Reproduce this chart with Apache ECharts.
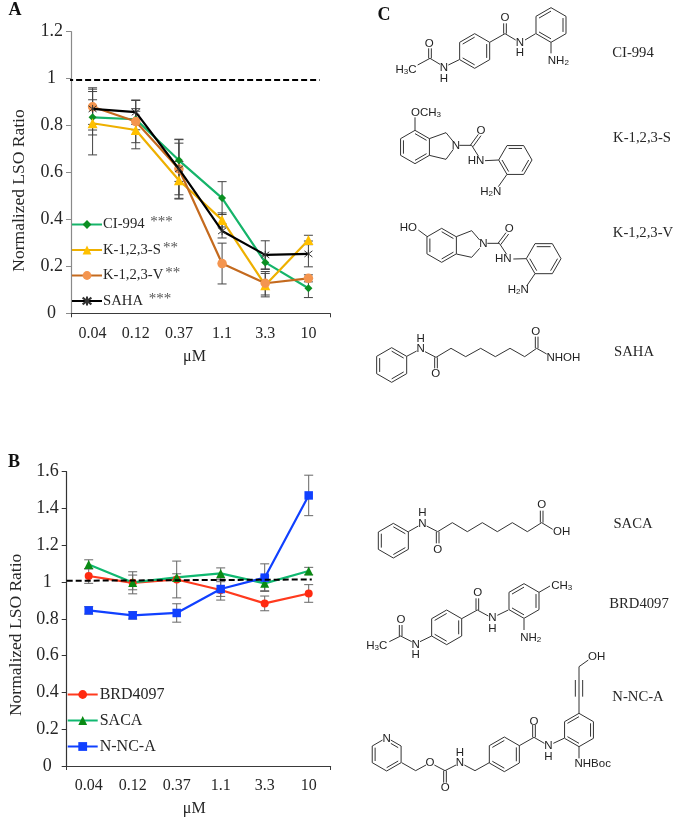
<!DOCTYPE html>
<html>
<head>
<meta charset="utf-8">
<style>html,body{margin:0;padding:0;background:#fff}#c{width:687px;height:831px;filter:blur(0.35px)}</style>
<script src="https://cdn.jsdelivr.net/npm/echarts@6/dist/echarts.min.js"></script>
</head>
<body>
<div id="c"></div>
<script>
// ---- data ----
const doses = ['0.04','0.12','0.37','1.1','3.3','10'];
const ciValues   = [0.835,0.827,0.652,0.491,0.217,0.107];
const ciErrors   = [0.075,0.045,0.09,0.07,0.03,0.04];
const ksValues   = [0.81,0.781,0.567,0.398,0.12,0.3125];
const ksErrors   = [0.135,0.08,0.08,0.03,0.05,0.02];
const kvValues   = [0.88,0.817,0.615,0.212,0.128,0.149];
const kvErrors   = [0.075,0.09,0.125,0.087,0.05,0.015];
const sahaValues = [0.871,0.857,0.615,0.351,0.249,0.253];
const sahaErrors = [0.09,0.052,0.11,0.03,0.06,0.055];
const brdValues  = [1.033,0.996,1.014,0.957,0.884,0.938];
const brdErrors  = [0.04,0.06,0.1,0.055,0.04,0.048];
const sacaValues = [1.096,0.998,1.025,1.047,0.993,1.06];
const sacaErrors = [0.025,0.04,0.02,0.03,0.04,0.02];
const nncValues  = [0.846,0.819,0.832,0.962,1.024,1.471];
const nncErrors  = [0.02,0.02,0.05,0.04,0.075,0.11];
const refLineA = [[-0.09,0.994],[5.76,0.994]];
const refLineB = [[0,1.007],[5.57,1.014]];
const namesA = ['CI-994 ***','K-1,2,3-S**','K-1,2,3-V**','SAHA ***'];
const namesB = ['BRD4097','SACA','N-NC-A'];
const ticksA = {min:0,max:1.2,interval:0.2};
const ticksB = {min:0,max:1.6,interval:0.2};

// ---- helpers ----
const serif = '"Liberation Serif","Times New Roman",serif';
const sans = '"Liberation Sans",Arial,sans-serif';
const txt = '#262626';

function errSeries(values, errs, xi, yi, color){
  return {
    type:'custom', xAxisIndex:xi, yAxisIndex:yi, z:2, silent:true,
    data: values.map((v,i)=>[i, v-errs[i], v+errs[i]]),
    renderItem(p, api){
      const lo = api.coord([api.value(0), api.value(1)]);
      const hi = api.coord([api.value(0), api.value(2)]);
      const c = 4.5, s = {stroke:color, lineWidth:1, fill:null};
      return {type:'group', children:[
        {type:'line', shape:{x1:lo[0],y1:lo[1],x2:hi[0],y2:hi[1]}, style:s},
        {type:'line', shape:{x1:lo[0]-c,y1:lo[1],x2:lo[0]+c,y2:lo[1]}, style:s},
        {type:'line', shape:{x1:hi[0]-c,y1:hi[1],x2:hi[0]+c,y2:hi[1]}, style:s}
      ]};
    }
  };
}
function lineSeries(name, values, xi, yi, lineColor, markColor, symbol, size, z, extra){
  return Object.assign({
    name, type:'line', data:values, xAxisIndex:xi, yAxisIndex:yi, z,
    symbol, symbolSize:size, showSymbol:true, smooth:false,
    lineStyle:{color:lineColor, width:2.2},
    itemStyle:{color:markColor, opacity:1},
    emphasis:{disabled:true}
  }, extra||{});
}
function refSeries(points, xi, yi){
  return {type:'line', data:points, xAxisIndex:xi, yAxisIndex:yi, symbol:'none', z:6, clip:false, silent:true,
    lineStyle:{color:'#000', width:2, type:[6,3]}};
}
function catAxis(g, axisColor, namePad){
  return {type:'category', gridIndex:g, data:doses, boundaryGap:true, name:'\u03bcM', nameLocation:'middle', nameGap:35,
    nameTextStyle:{fontFamily:serif,fontSize:16,color:txt,padding:namePad},
    axisLine:{onZero:false,lineStyle:{color:axisColor,width:1}},
    axisTick:{alignWithLabel:true,length:4,lineStyle:{color:axisColor}},
    axisLabel:{fontFamily:serif,fontSize:16,color:txt,margin:12,interval:0}, splitLine:{show:false}};
}
function bandAxis(g, axisColor){
  return {type:'value', gridIndex:g, min:0, max:6, interval:6, position:'bottom', axisLine:{show:false},
    axisTick:{show:true,length:4,lineStyle:{color:axisColor}}, axisLabel:{show:false}, splitLine:{show:false}};
}
function valAxis(g, t, axisColor, gap, namePad){
  return {type:'value', gridIndex:g, min:t.min, max:t.max, interval:t.interval, name:'Normalized LSO Ratio',
    nameLocation:'middle', nameGap:gap, nameRotate:90,
    nameTextStyle:{fontFamily:serif,fontSize:17.5,color:txt,padding:namePad},
    axisLine:{show:true,lineStyle:{color:axisColor,width:1.2}},
    axisTick:{show:true,length:5,lineStyle:{color:axisColor}},
    axisLabel:{fontFamily:serif,fontSize:18,color:txt,margin:8,
      formatter:v=>Number.isInteger(v)?'{p|'+v+'}':String(+v.toFixed(1)),
      rich:{p:{fontFamily:serif,fontSize:18,color:txt,padding:[0,7,0,0]}}},
    splitLine:{show:false}};
}
function legend(names, left, top, gap, width, size, shift){
  return {show:true, orient:'vertical', left, top, itemWidth:width, itemHeight:11, itemGap:gap, data:names, padding:0,
    selectedMode:false, inactiveColor:'#000',
    formatter:n=>n.replace(/\*+/,m=>'{a|'+m+'}'),
    textStyle:{fontFamily:serif,fontSize:size,color:txt,padding:[0,0,0,shift],
      rich:{a:{fontFamily:serif,fontSize:15,color:'#555',padding:[0,0,4,2]}}}};
}

// ---- structures, panel C (sketch units are 1/3 px from an origin) ----
const graphicEls = [];
const bondStyle = {stroke:'#333', lineWidth:1, fill:null};
function mol(ox, oy, m){
  const P = (x,y)=>[ox+x/3, oy+y/3];
  const seg = (x1,y1,x2,y2)=>{const a=P(x1,y1),b=P(x2,y2);
    graphicEls.push({type:'line',silent:true,z:1,shape:{x1:a[0],y1:a[1],x2:b[0],y2:b[1]},style:bondStyle});};
  (m.rings||[]).forEach(([cx,cy,r,start,edges])=>{
    const v=k=>{const a=(start+60*k)*Math.PI/180;return [r*Math.cos(a),-r*Math.sin(a)];};
    for(let k=0;k<6;k++){const a=v(k),b=v((k+1)%6);
      seg(cx+a[0],cy+a[1],cx+b[0],cy+b[1]);
      if(edges.includes(k)) seg(cx+a[0]*.8,cy+a[1]*.8,cx+b[0]*.8,cy+b[1]*.8);}
  });
  (m.bonds||[]).forEach(b=>seg(...b));
  (m.labels||[]).forEach(([x,y,t,knock])=>{const a=P(x,y);
    graphicEls.push({type:'text',silent:true,z:3,style:{x:a[0],y:a[1],text:t,font:'11.5px '+sans,fill:'#222',align:'center',verticalAlign:'middle',
      backgroundColor:knock?'#fff':undefined,
      rich:{s:{font:'8px '+sans,fill:'#222',padding:[4,0,0,0]},t:{font:'11.5px '+sans,fill:'#222'}}}});});
}
function caption(x,y,t){graphicEls.push({type:'text',silent:true,style:{x,y,text:t,font:'14.7px '+serif,fill:txt,align:'center',verticalAlign:'middle'}});}
function letter(x,y,t){graphicEls.push({type:'text',silent:true,style:{x,y,text:t,font:'bold 18px '+serif,fill:'#111',align:'center',verticalAlign:'middle'}});}

const E=[0,2,4], F=[1,3,5];
mol(370,0,{rings:[[314,153,52,90,E],[543,75,52,90,E]],
 bonds:[[143,195,180,175],[176,175,176,145],[184,175,184,145],[180,175,210,193],[235,195,268,179],[359,127,405,101],[401,101,401,70],[409,101,409,70],[405,101,437,120],[465,120,497,101],[543,127,543,160]],
 labels:[[108,208,'{t|H}{s|3}{t|C}'],[178,130,'O'],[222,203,'N'],[222,235,'H'],[405,52,'O'],[450,127,'N'],[450,158,'H'],[565,182,'{t|NH}{s|2}']]});
mol(370,0,{rings:[[135,441,50,90,F],[436,480,50,0,F]],
 bonds:[[135,391,135,352],[178,416,228,398],[228,398,250,425],[250,448,228,478],[228,478,178,466],[268,436,305,436],[301,436,325,403],[309,440,333,407],[305,436,325,468],[345,482,386,480],[411,523,385,560]],
 labels:[[168,338,'{t|OCH}{s|3}'],[258,436,'N'],[333,392,'O'],[318,483,'HN'],[362,576,'{t|H}{s|2}{t|N}']]});
mol(370,200,{rings:[[215,136,51,90,F],[521,176,52,0,F]],
 bonds:[[145,90,172,110],[259,110,305,92],[305,92,329,120],[329,145,305,172],[305,172,259,162],[352,130,388,130],[384,130,408,98],[392,134,416,102],[388,130,410,163],[430,177,469,176],[495,221,470,258]],
 labels:[[115,82,'HO'],[340,132,'N'],[418,87,'O'],[400,177,'HN'],[445,268,'{t|H}{s|2}{t|N}']]});
mol(370,200,{rings:[[65,495,52,90,F]],
 bonds:[[110,469,140,453],[165,455,198,472],[194,472,194,505],[202,472,202,505],[198,472,243,445],[243,445,287,470],[287,470,332,445],[332,445,376,470],[376,470,420,445],[420,445,464,470],[464,470,500,445],[496,445,496,410],[504,445,504,410],[500,445,530,462]],
 labels:[[152,447,'N'],[152,415,'H'],[197,522,'O'],[497,394,'O'],[580,472,'NHOH']]});
mol(370,500,{rings:[[70,122,52,90,F]],
 bonds:[[115,95,145,78],[170,78,203,95],[199,95,199,130],[207,95,207,130],[203,95,247,68],[247,68,292,95],[292,95,337,68],[337,68,382,95],[382,95,427,68],[427,68,472,95],[472,95,515,68],[511,68,511,32],[519,68,519,32],[515,68,548,88]],
 labels:[[157,70,'N'],[157,37,'H'],[203,148,'O'],[515,15,'O'],[575,95,'OH']]});
mol(370,500,{rings:[[230,382,52,90,E],[462,303,52,90,E]],
 bonds:[[58,425,92,408],[88,408,88,375],[96,408,96,375],[92,408,125,425],[150,425,185,408],[275,356,322,330],[318,330,318,295],[326,330,326,295],[322,330,355,348],[382,346,415,330],[507,277,540,258],[462,356,462,390]],
 labels:[[20,437,'{t|H}{s|3}{t|C}'],[93,358,'O'],[137,433,'N'],[137,465,'H'],[323,278,'O'],[367,353,'N'],[367,385,'H'],[575,258,'{t|CH}{s|3}'],[482,412,'{t|NH}{s|2}']]});
mol(370,650,{rings:[[50,313,50,90,F],[403,313,52,90,E],[627,240,50,90,E]],
 bonds:[[95,338,137,362],[137,362,168,345],[193,345,225,362],[221,362,221,398],[229,362,229,398],[225,362,258,345],[283,345,315,362],[315,362,358,338],[448,287,492,262],[488,262,488,225],[496,262,496,225],[492,262,523,280],[550,280,582,265],[627,190,627,50],[616,140,616,90],[638,140,638,90],[627,50,655,30],[627,290,627,325]],
 labels:[[50,265,'N',true],[180,338,'O'],[226,412,'O'],[270,338,'N'],[270,307,'H'],[492,215,'O'],[535,288,'N'],[535,320,'H'],[680,20,'OH'],[668,340,'NHBoc']]});
caption(633,53,'CI-994');caption(642,138,'K-1,2,3-S');caption(643,233,'K-1,2,3-V');caption(634,352,'SAHA');
caption(633,524,'SACA');caption(639,604,'BRD4097');caption(638,697,'N-NC-A');
letter(15,10,'A');letter(14,462,'B');letter(384,15,'C');

// ---- chart ----
const ax='#3a3a3a', ay='#8a8a8a';
const star='path://M-1,-1L1,1M-1,1L1,-1M0,-1.3L0,1.3';
const option = {
  animation:false, backgroundColor:'#fff',
  grid:[{left:71,top:31.7,width:259,height:281.6},{left:66.7,top:471.7,width:264,height:294.3}],
  xAxis:[catAxis(0,ax,[0,12,0,0]), catAxis(1,ax,[0,9,0,0]), bandAxis(0,ax), bandAxis(1,ax)],
  yAxis:[valAxis(0,ticksA,ay,43,[0,36,0,0]), valAxis(1,ticksB,'#333',41,[0,32,0,0])],
  legend:[legend(namesA,71,215,8.5,30,14.7,-4), legend(namesB,66.7,686.5,10,30,16,-3)],
  graphic:{elements:graphicEls},
  series:[
    errSeries(ciValues,ciErrors,0,0,'#444'),
    errSeries(ksValues,ksErrors,0,0,'#444'),
    errSeries(kvValues,kvErrors,0,0,'#444'),
    errSeries(sahaValues,sahaErrors,0,0,'#444'),
    refSeries(refLineA,2,0),
    lineSeries(namesA[0],ciValues,0,0,'#16b46a','#0b8f22','diamond',8,4),
    lineSeries(namesA[1],ksValues,0,0,'#eeb000','#ffc000','triangle',10,4),
    lineSeries(namesA[2],kvValues,0,0,'#c46a1e','#f4954f','circle',9.5,4),
    lineSeries(namesA[3],sahaValues,0,0,'#000','none',star,8,5,{itemStyle:{color:'none',borderColor:'#333',borderWidth:1,opacity:1}}),
    errSeries(brdValues,brdErrors,1,1,'#666'),
    errSeries(sacaValues,sacaErrors,1,1,'#666'),
    errSeries(nncValues,nncErrors,1,1,'#666'),
    refSeries(refLineB,3,1),
    lineSeries(namesB[0],brdValues,1,1,'#ff3a1e','#ff2a10','circle',8,4),
    lineSeries(namesB[1],sacaValues,1,1,'#10b870','#0a8a14','triangle',9,4),
    lineSeries(namesB[2],nncValues,1,1,'#1040ff','#1040ff','rect',8.5,5)
  ]
};
echarts.init(document.getElementById('c'),null,{renderer:'canvas'}).setOption(option);
</script>
</body>
</html>
